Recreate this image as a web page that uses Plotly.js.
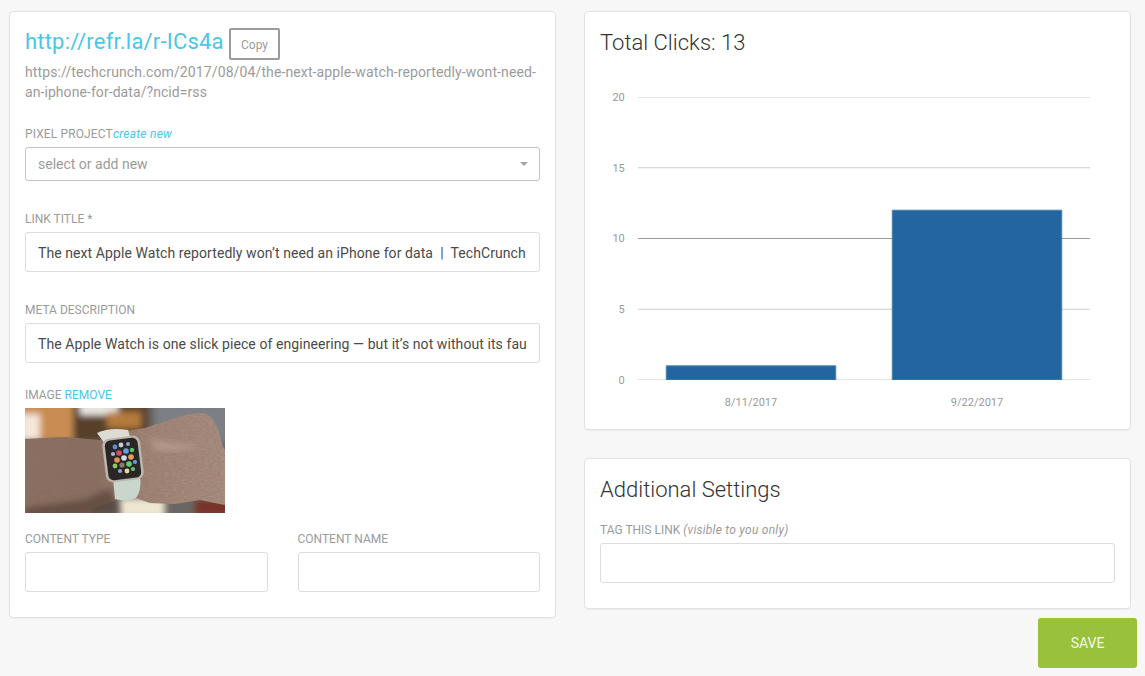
<!DOCTYPE html>
<html><head><meta charset="utf-8">
<script src="https://cdn.plot.ly/plotly-3.0.1.min.js"></script>
<style>
html,body{margin:0;padding:0;background:#f7f7f7;width:1145px;height:676px;overflow:hidden;font-family:Roboto,sans-serif}
.card{position:absolute;background:#fff;border:1px solid #e2e2e2;border-radius:4px;box-sizing:border-box;box-shadow:0 1px 1px rgba(0,0,0,.04)}
.t{position:absolute;white-space:nowrap;line-height:1}
.lab{font-size:12px;color:#9b9b9b}
.box{position:absolute;box-sizing:border-box;background:#fff;border:1px solid #dcdcdc;border-radius:3px;overflow:hidden;color:#4a4a4a;font-size:14px;padding:0 12px;white-space:nowrap;letter-spacing:.08px}
</style></head><body>
<div class="card" style="left:9px;top:11px;width:547px;height:607px"></div>
<div class="card" style="left:584px;top:11px;width:547px;height:419px"></div>
<div class="card" style="left:584px;top:458px;width:547px;height:151px"></div>

<div class="t" style="left:25px;top:31px;font-size:22px;color:#4cc5e8;letter-spacing:.2px">http://refr.la/r-ICs4a</div>
<div style="position:absolute;left:229px;top:28px;width:51px;height:32px;box-sizing:border-box;border:2px solid #9b9b9b;border-radius:2px;color:#9b9b9b;font-size:12px;text-align:center;line-height:30px">Copy</div>
<div class="t" style="left:25px;top:65px;font-size:14px;color:#9b9b9b;letter-spacing:.12px">https://techcrunch.com/2017/08/04/the-next-apple-watch-reportedly-wont-need-</div>
<div class="t" style="left:25px;top:85px;font-size:14px;color:#9b9b9b;letter-spacing:.07px">an-iphone-for-data/?ncid=rss</div>

<div class="t lab" style="left:25px;top:128px;letter-spacing:.13px">PIXEL PROJECT<i style="color:#4cc5e8;letter-spacing:.25px">create new</i></div>
<div class="box" style="left:25px;top:147px;width:515px;height:34px;line-height:33px;border-color:#c4c4c4;color:#9b9b9b;letter-spacing:0">select or add new</div>
<div style="position:absolute;left:520px;top:162px;width:0;height:0;border-left:4px solid transparent;border-right:4px solid transparent;border-top:4px solid #a5a5a5"></div>

<div class="t lab" style="left:25px;top:213px">LINK TITLE *</div>
<div class="box" style="left:25px;top:232px;width:515px;height:40px;line-height:40px">The next Apple Watch reportedly won’t need an iPhone for data &nbsp;|&nbsp; TechCrunch</div>

<div class="t lab" style="left:25px;top:304px">META DESCRIPTION</div>
<div class="box" style="left:25px;top:323px;width:515px;height:40px;line-height:40px">The Apple Watch is one slick piece of engineering — but it’s not without its fau</div>

<div class="t lab" style="left:25px;top:389px">IMAGE <span style="color:#4cc5e8">REMOVE</span></div>
<svg style="position:absolute;left:25px;top:408px" width="200" height="105" viewBox="0 0 200 105" role="img" aria-label="Apple Watch on a wrist">
<defs><filter id="b"><feGaussianBlur stdDeviation="3"/></filter>
<filter id="s"><feGaussianBlur stdDeviation=".6"/></filter>
<filter id="n" x="0" y="0" width="100%" height="100%"><feTurbulence type="fractalNoise" baseFrequency=".25 .6" numOctaves="2" seed="4"/><feColorMatrix values="0 0 0 0 .2  0 0 0 0 .13  0 0 0 0 .1  .9 0 0 0 -.15"/><feComposite in2="SourceAlpha" operator="in"/></filter>
<linearGradient id="arm" x1="0" y1="0" x2="1" y2="0"><stop offset="0" stop-color="#8d7264"/><stop offset=".35" stop-color="#8a6f62"/><stop offset=".6" stop-color="#a38677"/><stop offset="1" stop-color="#ab9184"/></linearGradient>
<path id="armp" d="M0 31 L40 29 L75 32 L95 24 L120 20 L150 10 Q172 3 182 6 Q193 14 197 36 L200 42 L200 97 L175 92 L150 96 L125 95 L105 88 L92 92 L70 100 L65 105 L0 105Z"/></defs>
<rect width="200" height="105" fill="#6a6663"/>
<g filter="url(#b)">
<rect x="-5" y="-5" width="53" height="38" fill="#c98d52"/><rect x="-5" y="6" width="20" height="26" fill="#f7e6da"/>
<rect x="48" y="-5" width="75" height="38" fill="#57402c"/><rect x="55" y="-5" width="38" height="12" fill="#ece8e2"/><rect x="82" y="4" width="34" height="16" fill="#b57c3c"/>
<rect x="130" y="-5" width="75" height="40" fill="#7c8085"/>
<rect x="95" y="90" width="45" height="20" fill="#efe6d2"/><rect x="170" y="92" width="35" height="15" fill="#7a3026"/>
</g>
<use href="#armp" fill="url(#arm)" filter="url(#s)"/>
<use href="#armp" filter="url(#n)" opacity=".55"/>
<path d="M0 100 L60 92 L85 80 L95 105 L0 110Z" fill="#4a342a" opacity=".55" filter="url(#b)"/>
<path d="M125 30 Q150 38 175 36 Q160 46 130 42Z" fill="#bda494" opacity=".7" filter="url(#b)"/>
<g filter="url(#s)">
<path d="M72 25 Q85 19 103 22 L106 32 L80 36Z" fill="#dcdcd4"/>
<path d="M88 70 L115 68 Q117 82 111 90 Q100 94 90 91Z" fill="#c9d6cc"/>
<rect x="79" y="29" width="38" height="44" rx="7" transform="rotate(-7 98 51)" fill="#bdb6aa"/>
<rect x="81.5" y="31" width="33" height="40" rx="5.5" transform="rotate(-7 98 51)" fill="#2a2828"/>
<circle cx="90" cy="39" r="2.4" fill="#5a8fd8"/><circle cx="96" cy="37" r="2.4" fill="#c8ccd4"/><circle cx="103" cy="36" r="2" fill="#8fa4c8"/>
<circle cx="88" cy="46" r="2.1" fill="#9fb4d8"/><circle cx="94" cy="45" r="2.8" fill="#d8505a"/><circle cx="101" cy="43" r="2.8" fill="#6a9ce8"/><circle cx="107" cy="42" r="2.2" fill="#58c860"/>
<circle cx="92" cy="52" r="2.8" fill="#e89050"/><circle cx="99" cy="50" r="2.8" fill="#d8dce8"/><circle cx="106" cy="49" r="2.8" fill="#e8a058"/>
<circle cx="90" cy="58" r="2.4" fill="#90c858"/><circle cx="97" cy="57" r="2.6" fill="#8a7a60"/><circle cx="104" cy="56" r="2.8" fill="#60d070"/><circle cx="110" cy="54" r="2.1" fill="#6a9ce8"/>
<circle cx="95" cy="63" r="2.1" fill="#8aa8d8"/><circle cx="102" cy="63" r="2.4" fill="#e8d890"/><circle cx="108" cy="61" r="2.1" fill="#70c070"/>
</g>
</svg>

<div class="t lab" style="left:25px;top:533px">CONTENT TYPE</div>
<div class="box" style="left:25px;top:552px;width:243px;height:40px"></div>
<div class="t lab" style="left:297.5px;top:533px">CONTENT NAME</div>
<div class="box" style="left:298px;top:552px;width:242px;height:40px"></div>

<div class="t" style="left:600px;top:479px;font-size:22px;font-weight:300;color:#333">Additional Settings</div>
<div class="t lab" style="left:600px;top:524px">TAG THIS LINK <i style="letter-spacing:.25px">(visible to you only)</i></div>
<div class="box" style="left:600px;top:543px;width:515px;height:40px"></div>
<div style="position:absolute;left:1038px;top:618px;width:99px;height:50px;background:#9ac13c;border-radius:3px;color:#f4f8e6;font-size:14px;text-align:center;line-height:50px">SAVE</div>

<div id="chart" style="position:absolute;left:585px;top:12px;width:545px;height:417px"></div>
<script>
var categories = ['8/11/2017', '9/22/2017'];
var clicks = [1, 12];
var yTicks = [0, 5, 10, 15, 20];
var chartTitle = 'Total Clicks: 13';

function gridShape(v, color, w) {
  return {type:'line', layer:'below', xref:'paper', x0:0, x1:1, yref:'y', y0:v, y1:v, line:{color:color, width:w}};
}
var axisFont = {family:'Roboto, sans-serif', size:11, color:'#999999'};
Plotly.newPlot('chart', [{
  type:'bar', x:categories, y:clicks,
  marker:{color:'#22659f', line:{color:'#4a82b2', width:1}},
  hoverinfo:'x+y'
}], {
  width:545, height:417,
  margin:{l:53, r:40, t:85, b:49},
  paper_bgcolor:'rgba(0,0,0,0)', plot_bgcolor:'rgba(0,0,0,0)',
  bargap:0.25, showlegend:false,
  title:{text:chartTitle, x:15/545, xanchor:'left', xref:'container', y:1-30/417, yanchor:'middle', yref:'container',
    font:{family:'Roboto, sans-serif', size:22, weight:300, color:'#333333'}},
  xaxis:{type:'category', tickfont:axisFont, showgrid:false, zeroline:false, showline:false, ticks:'outside', ticklen:12, tickcolor:'rgba(0,0,0,0)', automargin:false},
  yaxis:{range:[0,20], tickvals:yTicks, ticktext:yTicks.map(String), tickfont:axisFont, showgrid:false, zeroline:false, showline:false, ticks:'outside', ticklen:10, tickcolor:'rgba(0,0,0,0)', automargin:false},
  shapes:[gridShape(yTicks[0],'#e6e6e6',2), gridShape(yTicks[1],'#cccccc',1), gridShape(yTicks[2],'#9a9a9a',1), gridShape(yTicks[3],'#cccccc',1), gridShape(yTicks[4],'#e6e6e6',2)]
}, {displayModeBar:false});
</script>
</body></html>
